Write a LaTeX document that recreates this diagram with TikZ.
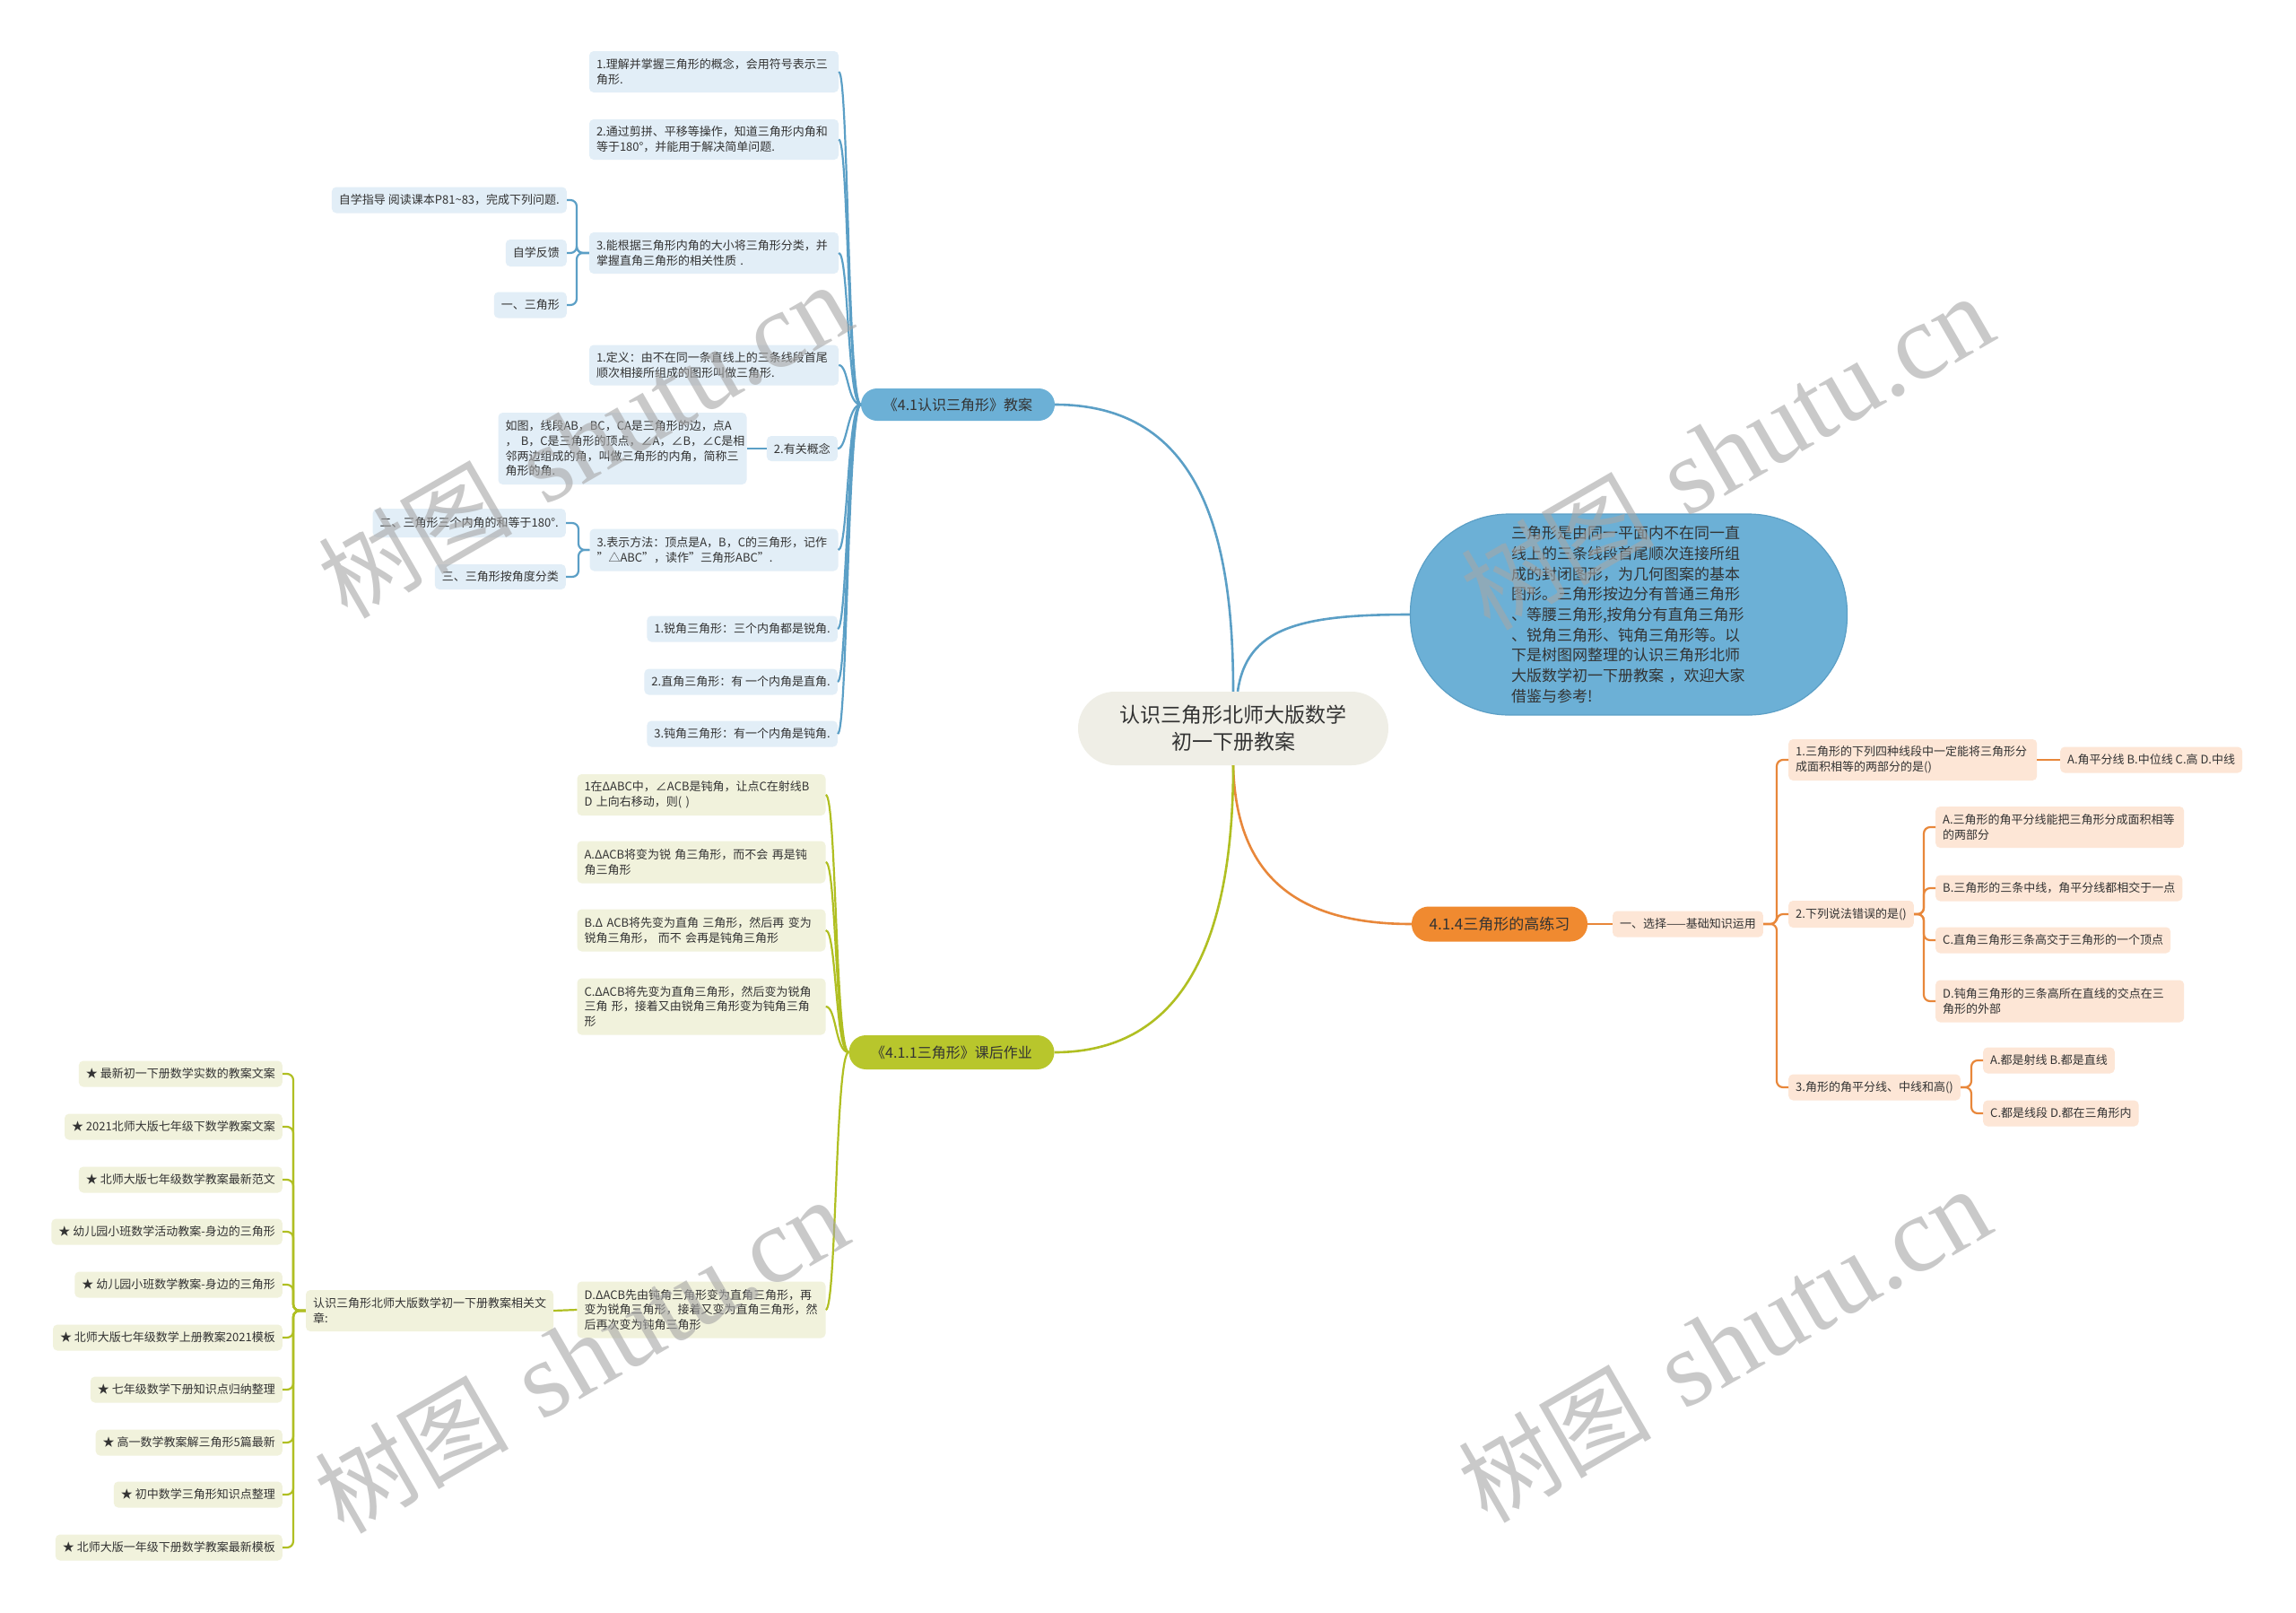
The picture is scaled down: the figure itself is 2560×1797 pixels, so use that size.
\documentclass[tikz,border=0pt]{standalone}
\usepackage{fontspec}
\setmainfont{Noto Sans CJK SC}
\newfontfamily\wmserif{Liberation Serif}
\definecolor{txt}{HTML}{333333}
\definecolor{bluel}{HTML}{5B9FC6}
\definecolor{bluefill}{HTML}{6CB0D6}
\definecolor{bleaffill}{HTML}{E2EEF7}
\definecolor{greenl}{HTML}{B0BF22}
\definecolor{greenfill}{HTML}{B8C62C}
\definecolor{gleaffill}{HTML}{F1F2DC}
\definecolor{orangel}{HTML}{E8873A}
\definecolor{orangefill}{HTML}{F08A30}
\definecolor{oleaffill}{HTML}{FDE6D6}
\definecolor{centerfill}{HTML}{EFEEE6}
\tikzset{
  leafbase/.style={rounded corners=5pt, inner xsep=8pt, inner ysep=3pt, text=txt,
    font=\fontsize{13}{16.7}\selectfont, align=left},
  bleaf/.style={leafbase, fill=bleaffill},
  gleaf/.style={leafbase, fill=gleaffill},
  oleaf/.style={leafbase, fill=oleaffill},
  branchbase/.style={text=txt, font=\fontsize{16}{20}\selectfont, inner sep=0pt},
  bline/.style={draw=bluel, line width=2.2pt},
  gline/.style={draw=greenl, line width=2.2pt},
  oline/.style={draw=orangel, line width=2.2pt},
  bmain/.style={draw=bluel, line width=2.6pt},
  gmain/.style={draw=greenl, line width=2.6pt},
  omain/.style={draw=orangel, line width=2.6pt},
  brk/.style={rounded corners=7pt},
  wm/.style={text=black!35, opacity=0.6, font=\fontsize{108}{108}\selectfont, inner sep=0pt, rotate=30}
}
\newcommand{\wmtext}{树图\hspace{0.35em}{\wmserif\fontsize{120}{120}\selectfont shutu.cn}}
\begin{document}
\begin{tikzpicture}[x=1pt,y=-1pt]
\useasboundingbox (0,0) rectangle (2560,1797);
\fill[white] (0,0) rectangle (2560,1797);

% ---------- center and bubble ----------
\node[fill=centerfill, rounded corners=41pt, minimum width=346pt, minimum height=82pt,
  text=txt, font=\fontsize{23}{30}\selectfont, align=center, inner sep=0pt]
  (C) at (1375,812) {认识三角形北师大版数学\\初一下册教案};
\node[fill=bluefill, draw=bluel, line width=1.2pt, rounded corners=110pt, minimum width=487pt,
  minimum height=224pt, text=txt, font=\fontsize{17}{22.7}\selectfont, align=left,
  inner sep=0pt, text width=262pt]
  (D) at (1816,685) {三角形是由同一平面内不在同一直\\线上的三条线段首尾顺次连接所组\\成的封闭图形，为几何图案的基本\\图形。三角形按边分有普通三角形\\、等腰三角形,按角分有直角三角形\\、锐角三角形、钝角三角形等。以\\下是树图网整理的认识三角形北师\\大版数学初一下册教案 ，欢迎大家\\借鉴与参考!};

% ---------- branch nodes ----------
\node[branchbase, fill=bluefill, rounded corners=18pt, minimum width=216pt, minimum height=36pt]
  (B) at (1068,451) {《4.1认识三角形》教案};
\node[branchbase, fill=greenfill, rounded corners=19pt, minimum width=229pt, minimum height=38pt]
  (G) at (1061,1173) {《4.1.1三角形》课后作业};
\node[branchbase, fill=orangefill, rounded corners=19pt, minimum width=196pt, minimum height=39pt,
  font=\fontsize{17}{20}\selectfont]
  (O) at (1672,1030) {4.1.4三角形的高练习};

% ---------- blue leaves ----------
\node[bleaf, text width=262pt, minimum height=46pt] (b1) at (796,80) {1.理解并掌握三角形的概念，会用符号表示三\\角形.};
\node[bleaf, text width=262pt, minimum height=45pt] (b2) at (796,155.5) {2.通过剪拼、平移等操作，知道三角形内角和\\等于180°，并能用于解决简单问题.};
\node[bleaf, text width=262pt, minimum height=46pt] (b3) at (796,282) {3.能根据三角形内角的大小将三角形分类，并\\掌握直角三角形的相关性质~.};
\node[bleaf, minimum height=29pt, anchor=east] (b3a) at (632,223) {自学指导 阅读课本P81\textasciitilde 83，完成下列问题.};
\node[bleaf, minimum height=30pt, anchor=east] (b3b) at (632,282) {自学反馈};
\node[bleaf, minimum height=29pt, anchor=east] (b3c) at (632,340) {一、三角形};
\node[bleaf, text width=262pt, minimum height=45pt] (b4) at (796,407) {1.定义：由不在同一条直线上的三条线段首尾\\顺次相接所组成的图形叫做三角形.};
\node[bleaf, minimum height=28pt, anchor=east] (b5) at (934,500) {2.有关概念};
\node[bleaf, text width=261pt, minimum height=80pt] (b5a) at (694,500) {如图，线段AB，BC，CA是三角形的边，点A\\，~B，C是三角形的顶点，∠A，∠B，∠C是相\\邻两边组成的角，叫做三角形的内角，简称三\\角形的角.};
\node[bleaf, text width=261pt, minimum height=47pt] (b6) at (796,613) {3.表示方法：顶点是A，B，C的三角形，记作\\"△ABC"，读作"三角形ABC".};
\node[bleaf, minimum height=32pt, anchor=east] (b6a) at (631,583) {二、三角形三个内角的和等于180°.};
\node[bleaf, minimum height=28pt, anchor=east] (b6b) at (631,643) {三、三角形按角度分类};
\node[bleaf, minimum height=29pt, anchor=east] (b7) at (934,701) {1.锐角三角形：三个内角都是锐角.};
\node[bleaf, minimum height=29pt, anchor=east] (b8) at (934,760) {2.直角三角形：有 一个内角是直角.};
\node[bleaf, minimum height=29pt, anchor=east] (b9) at (934,818) {3.钝角三角形：有一个内角是钝角.};

% ---------- green leaves ----------
\node[gleaf, text width=261pt, minimum height=46pt] (g1) at (782,886) {1在ΔABC中，∠ACB是钝角，让点C在射线B\\D~上向右移动，则(~)};
\node[gleaf, text width=261pt, minimum height=47pt] (g2) at (782,961) {A.ΔACB将变为锐~角三角形，而不会~再是钝\\角三角形};
\node[gleaf, text width=261pt, minimum height=47pt] (g3) at (782,1037) {B.Δ~ACB将先变为直角~三角形，然后再~变为\\锐角三角形，~而不~会再是钝角三角形};
\node[gleaf, text width=261pt, minimum height=63pt] (g4) at (782,1122) {C.ΔACB将先变为直角三角形，然后变为锐角\\三角~形，接着又由锐角三角形变为钝角三角\\形};
\node[gleaf, text width=261pt, minimum height=63pt] (g5) at (782,1460) {D.ΔACB先由钝角三角形变为直角三角形，再\\变为锐角三角形，接着又变为直角三角形，然\\后再次变为钝角三角形};
\node[gleaf, text width=260pt, minimum height=46pt] (g6) at (479,1461) {认识三角形北师大版数学初一下册教案相关文\\章:};
\node[gleaf, minimum height=29pt, anchor=east] (s1) at (315,1197) {★ 最新初一下册数学实数的教案文案};
\node[gleaf, minimum height=29pt, anchor=east] (s2) at (315,1256) {★ 2021北师大版七年级下数学教案文案};
\node[gleaf, minimum height=29pt, anchor=east] (s3) at (315,1315) {★ 北师大版七年级数学教案最新范文};
\node[gleaf, minimum height=29pt, anchor=east] (s4) at (315,1373) {★ 幼儿园小班数学活动教案-身边的三角形};
\node[gleaf, minimum height=29pt, anchor=east] (s5) at (315,1432) {★ 幼儿园小班数学教案-身边的三角形};
\node[gleaf, minimum height=29pt, anchor=east] (s6) at (315,1491) {★ 北师大版七年级数学上册教案2021模板};
\node[gleaf, minimum height=29pt, anchor=east] (s7) at (315,1549) {★ 七年级数学下册知识点归纳整理};
\node[gleaf, minimum height=29pt, anchor=east] (s8) at (315,1608) {★ 高一数学教案解三角形5篇最新};
\node[gleaf, minimum height=29pt, anchor=east] (s9) at (315,1666) {★ 初中数学三角形知识点整理};
\node[gleaf, minimum height=29pt, anchor=east] (s10) at (315,1725) {★ 北师大版一年级下册数学教案最新模板};

% ---------- orange leaves ----------
\node[oleaf, minimum height=29pt] (o0) at (1882,1030) {一、选择——基础知识运用};
\node[oleaf, text width=261pt, minimum height=46pt, anchor=west] (o1) at (1994,847) {1.三角形的下列四种线段中一定能将三角形分\\成面积相等的两部分的是()};
\node[oleaf, minimum height=29pt, anchor=west] (o1a) at (2297,847) {A.角平分线 B.中位线 C.高 D.中线};
\node[oleaf, minimum height=30pt, anchor=west] (o2) at (1994,1019) {2.下列说法错误的是()};
\node[oleaf, text width=261pt, minimum height=46pt, anchor=west] (o2a) at (2158,922) {A.三角形的角平分线能把三角形分成面积相等\\的两部分};
\node[oleaf, minimum height=29pt, anchor=west] (o2b) at (2158,990) {B.三角形的三条中线，角平分线都相交于一点};
\node[oleaf, minimum height=29pt, anchor=west] (o2c) at (2158,1048) {C.直角三角形三条高交于三角形的一个顶点};
\node[oleaf, text width=261pt, minimum height=47pt, anchor=west] (o2d) at (2158,1116) {D.钝角三角形的三条高所在直线的交点在三\\角形的外部};
\node[oleaf, minimum height=29pt, anchor=west] (o3) at (1994,1212) {3.角形的角平分线、中线和高()};
\node[oleaf, minimum height=29pt, anchor=west] (o3a) at (2211,1182) {A.都是射线 B.都是直线};
\node[oleaf, minimum height=29pt, anchor=west] (o3c) at (2211,1241) {C.都是线段 D.都在三角形内};

% ---------- main connectors ----------
\draw[bmain] (C.north) .. controls +(0,-171) and +(164,0) .. (B.east);
\draw[bmain] ([xshift=5pt]C.north) .. controls +(10,-71) and +(-123,0) .. (D.west);
\draw[omain] (C.south) .. controls +(3,127) and +(-124,0) .. (O.west);
\draw[gmain] (C.south) .. controls +(0,227) and +(124,0) .. (G.east);

% ---------- blue connectors ----------
\foreach \n in {b1,b2,b3,b4,b5,b6,b7,b8,b9}
  \draw[bline] (B.west) .. controls +(-15,0) and +(11,0) .. (\n.east);
\coordinate (jb3) at (643,282);
\foreach \n in {b3a,b3b,b3c}
  \draw[bline, brk] (b3.west) -- (jb3) |- (\n.east);
\draw[bline] (b5.west) -- (b5a.east);
\coordinate (jb6) at (645,613);
\foreach \n in {b6a,b6b}
  \draw[bline, brk] (b6.west) -- (jb6) |- (\n.east);

% ---------- green connectors ----------
\foreach \n in {g1,g2,g3,g4,g5}
  \draw[gline] (G.west) .. controls +(-15,0) and +(12,0) .. (\n.east);
\draw[gline] (g5.west) -- (g6.east);
\coordinate (jg6) at (327,1461);
\foreach \n in {s1,s2,s3,s4,s5,s6,s7,s8,s9,s10}
  \draw[gline, brk] (g6.west) -- (jg6) |- (\n.east);

% ---------- orange connectors ----------
\draw[oline] (O.east) -- (o0.west);
\coordinate (jo0) at (1981,1030);
\foreach \n in {o1,o2,o3}
  \draw[oline, brk] (o0.east) -- (jo0) |- (\n.west);
\draw[oline] (o1.east) -- (o1a.west);
\coordinate (jo2) at (2145,1019);
\foreach \n in {o2a,o2b,o2c,o2d}
  \draw[oline, brk] (o2.east) -- (jo2) |- (\n.west);
\coordinate (jo3) at (2198,1212);
\foreach \n in {o3a,o3c}
  \draw[oline, brk] (o3.east) -- (jo3) |- (\n.west);

% ---------- watermarks ----------
\node[wm] (w1) at (652,492) {\wmtext};
\node[wm] (w2) at (1925,505) {\wmtext};
\node[wm] (w3) at (648,1512) {\wmtext};
\node[wm] (w4) at (1922,1500) {\wmtext};
\end{tikzpicture}
\end{document}
